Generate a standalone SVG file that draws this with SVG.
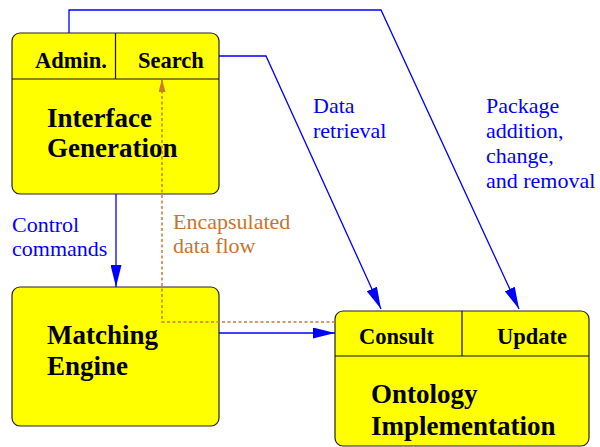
<svg xmlns="http://www.w3.org/2000/svg" width="600" height="447" viewBox="0 0 600 447">
  <style>
    .box { fill: #ffff00; stroke: #222; stroke-width: 1.2; }
    .div { stroke: #111; stroke-width: 1.2; fill: none; }
    .part { font-family: "Liberation Serif", "Times New Roman", serif; font-weight: bold; font-size: 22.5px; fill: #000; }
    .title { font-family: "Liberation Serif", "Times New Roman", serif; font-weight: bold; font-size: 27px; fill: #000; }
    .flow { stroke: #0000ff; stroke-width: 1.3; fill: none; }
    .enc { stroke: #cc7a2e; stroke-width: 1.5; stroke-dasharray: 3 2.5; fill: none; }
    .lbl { font-family: "Liberation Serif", "Times New Roman", serif; font-size: 22px; fill: #0000ff; }
    .lbl-enc { font-family: "Liberation Serif", "Times New Roman", serif; font-size: 22px; fill: #c8742e; }
  </style>
  <defs>
    <marker id="arrow" viewBox="0 0 22 11" refX="22" refY="5.5" markerWidth="22" markerHeight="11" markerUnits="userSpaceOnUse" orient="auto">
      <path d="M0,0 L22,5.5 L0,11 Z" fill="#0000ff"/>
    </marker>
    <marker id="arrow-enc" viewBox="0 0 13 7" refX="13" refY="3.5" markerWidth="13" markerHeight="7" markerUnits="userSpaceOnUse" orient="auto">
      <path d="M0,0 L13,3.5 L0,7 Z" fill="#cc7a2e"/>
    </marker>
  </defs>

  <!-- Interface Generation -->
  <g id="interface-generation">
    <rect class="box" x="12" y="33" width="207" height="161" rx="8"/>
    <path class="div" d="M12,79 H219 M115.5,33 V79"/>
    <text class="part" x="35" y="68">Admin.</text>
    <text class="part" x="138" y="68">Search</text>
    <text class="title" x="47" y="127">Interface</text>
    <text class="title" x="47" y="157">Generation</text>
  </g>

  <!-- Matching Engine -->
  <g id="matching-engine">
    <rect class="box" x="12" y="287" width="207" height="139" rx="8"/>
    <text class="title" x="47" y="344">Matching</text>
    <text class="title" x="47" y="375">Engine</text>
  </g>

  <!-- Ontology Implementation -->
  <g id="ontology-implementation">
    <rect class="box" x="335" y="311" width="254" height="135" rx="8"/>
    <path class="div" d="M335,356 H589 M462,311 V356"/>
    <text class="part" x="359" y="344">Consult</text>
    <text class="part" x="497" y="344">Update</text>
    <text class="title" x="371" y="403">Ontology</text>
    <text class="title" x="371" y="435">Implementation</text>
  </g>

  <!-- connectors, drawn over the boxes -->
  <g id="connectors">
    <!-- Admin. to Update: package addition, change and removal -->
    <path class="flow" d="M69,33 V10 H381 L519,309" marker-end="url(#arrow)"/>
    <!-- Search to Consult: data retrieval -->
    <path class="flow" d="M219,56 H266 L381,309" marker-end="url(#arrow)"/>
    <!-- control commands -->
    <path class="flow" d="M116,194 V287" marker-end="url(#arrow)"/>
    <!-- matching engine to consult -->
    <path class="flow" d="M219,333 H335" marker-end="url(#arrow)"/>
    <!-- encapsulated data flow -->
    <path class="enc" d="M335,322 H162 V79" marker-end="url(#arrow-enc)"/>
  </g>

  <!-- connector labels -->
  <g id="labels">
    <text class="lbl" x="313" y="113">Data</text>
    <text class="lbl" x="313" y="138">retrieval</text>
    <text class="lbl" x="486" y="113">Package</text>
    <text class="lbl" x="486" y="138">addition,</text>
    <text class="lbl" x="486" y="163">change,</text>
    <text class="lbl" x="486" y="188">and removal</text>
    <text class="lbl" x="12" y="232">Control</text>
    <text class="lbl" x="12" y="256">commands</text>
    <text class="lbl-enc" x="173" y="229">Encapsulated</text>
    <text class="lbl-enc" x="173" y="253">data flow</text>
  </g>
</svg>
